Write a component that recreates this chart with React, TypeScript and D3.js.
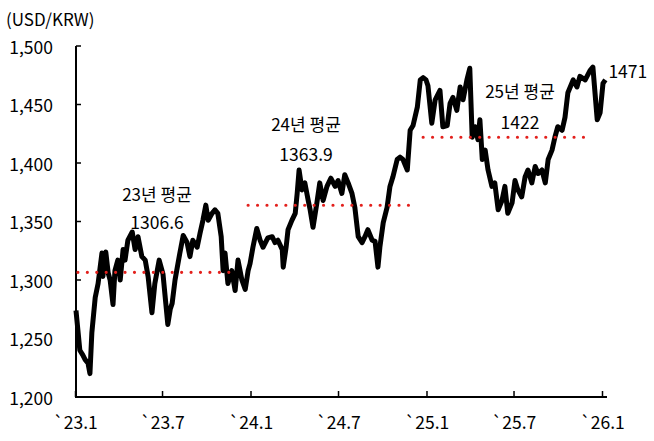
import React, { useRef, useEffect } from "react";
import * as d3 from "d3";

const dates = [
  "2023-01-02", "2023-01-06", "2023-01-10", "2023-01-16", "2023-01-21", "2023-01-27", "2023-01-31",
  "2023-02-04", "2023-02-11", "2023-02-17", "2023-02-25", "2023-02-27", "2023-03-05", "2023-03-10",
  "2023-03-14", "2023-03-20", "2023-03-24", "2023-03-30", "2023-04-04", "2023-04-10", "2023-04-14",
  "2023-04-20", "2023-04-29", "2023-05-05", "2023-05-11", "2023-05-19", "2023-05-26", "2023-06-01",
  "2023-06-09", "2023-06-15", "2023-06-24", "2023-07-02", "2023-07-12", "2023-07-17", "2023-07-21",
  "2023-07-27", "2023-08-06", "2023-08-13", "2023-08-21", "2023-08-27", "2023-09-02", "2023-09-11",
  "2023-09-17", "2023-09-23", "2023-09-29", "2023-10-04", "2023-10-12", "2023-10-18", "2023-10-24",
  "2023-10-31", "2023-11-04", "2023-11-08", "2023-11-14", "2023-11-22", "2023-11-29", "2023-12-05",
  "2023-12-13", "2023-12-20", "2023-12-26", "2023-12-30",
  "2024-01-05", "2024-01-13", "2024-01-20", "2024-01-26", "2024-02-05", "2024-02-14", "2024-02-20",
  "2024-02-26", "2024-03-06", "2024-03-08", "2024-03-14", "2024-03-18", "2024-03-26", "2024-04-02",
  "2024-04-06", "2024-04-10", "2024-04-16", "2024-04-22", "2024-04-29", "2024-05-03", "2024-05-09",
  "2024-05-17", "2024-05-23", "2024-05-30", "2024-06-07", "2024-06-15", "2024-06-24", "2024-06-30",
  "2024-07-08", "2024-07-14", "2024-07-21", "2024-07-29", "2024-08-04", "2024-08-11", "2024-08-19",
  "2024-08-25", "2024-08-31", "2024-09-09", "2024-09-15", "2024-09-21", "2024-09-25", "2024-10-02",
  "2024-10-10", "2024-10-16", "2024-10-22", "2024-10-31", "2024-11-06", "2024-11-12", "2024-11-21",
  "2024-11-27", "2024-12-03", "2024-12-12", "2024-12-18", "2024-12-24", "2024-12-30",
  "2025-01-03", "2025-01-11", "2025-01-18", "2025-01-28", "2025-02-03", "2025-02-12", "2025-02-18",
  "2025-02-24", "2025-03-04", "2025-03-11", "2025-03-17", "2025-03-25", "2025-03-31", "2025-04-05",
  "2025-04-11", "2025-04-17", "2025-04-21", "2025-04-26", "2025-05-02", "2025-05-08", "2025-05-16",
  "2025-05-22", "2025-05-29", "2025-06-06", "2025-06-12", "2025-06-18", "2025-06-27", "2025-07-03",
  "2025-07-09", "2025-07-17", "2025-07-24", "2025-07-30", "2025-08-07", "2025-08-14", "2025-08-20",
  "2025-08-28", "2025-09-04", "2025-09-10", "2025-09-18", "2025-09-24", "2025-09-30", "2025-10-09",
  "2025-10-15", "2025-10-21", "2025-11-01", "2025-11-09", "2025-11-15", "2025-11-26", "2025-12-06",
  "2025-12-12", "2025-12-21", "2025-12-27", "2026-01-02", "2026-01-07",
];

const rates = [
  1274, 1257, 1240, 1236, 1232, 1229, 1220,
  1255, 1285, 1297, 1323, 1303, 1324, 1306,
  1300, 1279, 1308, 1317, 1300, 1326, 1317,
  1334, 1341, 1326, 1337, 1320, 1317, 1303,
  1272, 1297, 1317, 1305, 1262, 1275, 1280,
  1300, 1323, 1338, 1332, 1320, 1334, 1328,
  1340, 1351, 1364, 1351, 1357, 1360, 1357,
  1337, 1308, 1323, 1297, 1308, 1291, 1317,
  1300, 1292, 1308, 1314,
  1328, 1344, 1334, 1328, 1336, 1337, 1332,
  1334, 1326, 1311, 1328, 1343, 1351, 1357,
  1374, 1394, 1377, 1383, 1368, 1360, 1345,
  1366, 1383, 1368, 1380, 1387, 1380, 1385,
  1374, 1390, 1383, 1374, 1362, 1337, 1332,
  1337, 1343, 1334, 1333, 1311, 1328, 1349,
  1362, 1380, 1388, 1403, 1405, 1403, 1394,
  1428, 1432, 1448, 1471, 1473, 1471,
  1466, 1434, 1454, 1462, 1431, 1432, 1451,
  1456, 1445, 1465, 1454, 1471, 1481, 1422,
  1431, 1420, 1437, 1403, 1411, 1394, 1380,
  1383, 1360, 1368, 1380, 1357, 1366, 1385,
  1377, 1371, 1388, 1394, 1383, 1397, 1391,
  1394, 1383, 1403, 1411, 1422, 1431, 1428,
  1439, 1460, 1471, 1465, 1474, 1471, 1479,
  1482, 1437, 1443, 1468, 1471,
];

const avgYears = ["23", "24", "25"];
const avgValues = [1306.6, 1363.9, 1422];
const avgLabels = ["1306.6", "1363.9", "1422"];
const avgStart = ["2023-01-06", "2023-12-26", "2024-12-24"];
const avgEnd = ["2023-12-05", "2024-12-13", "2025-12-12"];

const xTickDates = ["2023-01-01", "2023-07-01", "2024-01-01", "2024-07-01", "2025-01-01", "2025-07-01", "2026-01-01"];
const xTickLabels = ["`23.1", "`23.7", "`24.1", "`24.7", "`25.1", "`25.7", "`26.1"];
const yTicks = [1200, 1250, 1300, 1350, 1400, 1450, 1500];

const lastLabel = "1471";

const FONT = "'Noto Sans CJK KR', 'Noto Sans', sans-serif";

const App: React.FC = () => {
  const ref = useRef<SVGSVGElement | null>(null);

  useEffect(() => {
    const svg = d3.select(ref.current);
    svg.selectAll("*").remove();

    const parse = d3.utcParse("%Y-%m-%d");
    const data = dates.map((d, i) => ({ date: parse(d) as Date, value: rates[i] }));

    const x = d3
      .scaleUtc()
      .domain([parse("2023-01-01") as Date, parse("2026-01-01") as Date])
      .range([75.5, 602.5]);
    const y = d3.scaleLinear().domain([1200, 1500]).range([397, 46]);

    // axes
    svg.append("line")
      .attr("x1", 76).attr("x2", 76)
      .attr("y1", y(1500)).attr("y2", y(1200))
      .attr("stroke", "#000").attr("stroke-width", 2);
    svg.append("line")
      .attr("x1", 75).attr("x2", 607)
      .attr("y1", y(1200)).attr("y2", y(1200))
      .attr("stroke", "#000").attr("stroke-width", 2);

    yTicks.forEach((t) => {
      svg.append("line")
        .attr("x1", 76).attr("x2", 81)
        .attr("y1", y(t)).attr("y2", y(t))
        .attr("stroke", "#000").attr("stroke-width", 1.5);
      svg.append("text")
        .attr("x", 53).attr("y", y(t))
        .attr("text-anchor", "end")
        .attr("dominant-baseline", "central")
        .style("font-family", FONT).style("font-size", "17.5px")
        .text(d3.format(",")(t));
    });

    xTickDates.forEach((d, i) => {
      const px = x(parse(d) as Date);
      svg.append("line")
        .attr("x1", px).attr("x2", px)
        .attr("y1", y(1200)).attr("y2", y(1200) - 6)
        .attr("stroke", "#000").attr("stroke-width", 1.5);
      svg.append("text")
        .attr("x", px).attr("y", 421)
        .attr("text-anchor", "middle")
        .attr("dominant-baseline", "central")
        .style("font-family", FONT).style("font-size", "17.5px")
        .text(xTickLabels[i]);
    });

    svg.append("text")
      .attr("x", 6).attr("y", 18)
      .attr("dominant-baseline", "central")
      .style("font-family", FONT).style("font-size", "17px")
      .text("(USD/KRW)");

    // exchange rate line
    const line = d3
      .line<{ date: Date; value: number }>()
      .x((d) => x(d.date))
      .y((d) => y(d.value));

    svg.append("path")
      .datum(data)
      .attr("fill", "none")
      .attr("stroke", "#000")
      .attr("stroke-width", 5)
      .attr("stroke-linejoin", "round")
      .attr("d", line);

    // yearly averages
    avgValues.forEach((v, i) => {
      svg.append("line")
        .attr("x1", x(parse(avgStart[i]) as Date))
        .attr("x2", x(parse(avgEnd[i]) as Date))
        .attr("y1", y(v)).attr("y2", y(v))
        .attr("stroke", "#e3201c")
        .attr("stroke-width", 3.2)
        .attr("stroke-linecap", "round")
        .attr("stroke-dasharray", "0 9.43");
    });

    const labelPos = [
      { x: 157, t: 193, v: 221 },
      { x: 306, t: 123, v: 153 },
      { x: 520, t: 90, v: 121 },
    ];
    avgYears.forEach((yr, i) => {
      svg.append("text")
        .attr("x", labelPos[i].x).attr("y", labelPos[i].t)
        .attr("text-anchor", "middle")
        .attr("dominant-baseline", "central")
        .style("font-family", FONT).style("font-size", "17px")
        .text(`${yr}년 평균`);
      svg.append("text")
        .attr("x", labelPos[i].x).attr("y", labelPos[i].v)
        .attr("text-anchor", "middle")
        .attr("dominant-baseline", "central")
        .style("font-family", FONT).style("font-size", "17.5px")
        .text(avgLabels[i]);
    });

    const last = data[data.length - 1];
    svg.append("text")
      .attr("x", x(last.date) + 3).attr("y", 70)
      .attr("dominant-baseline", "central")
      .style("font-family", FONT).style("font-size", "17.5px")
      .text(lastLabel);
  }, []);

  return (
    <svg
      ref={ref}
      width={654}
      height={441}
      style={{ position: "absolute", left: 0, top: 0, background: "#fff" }}
    />
  );
};

export default App;
